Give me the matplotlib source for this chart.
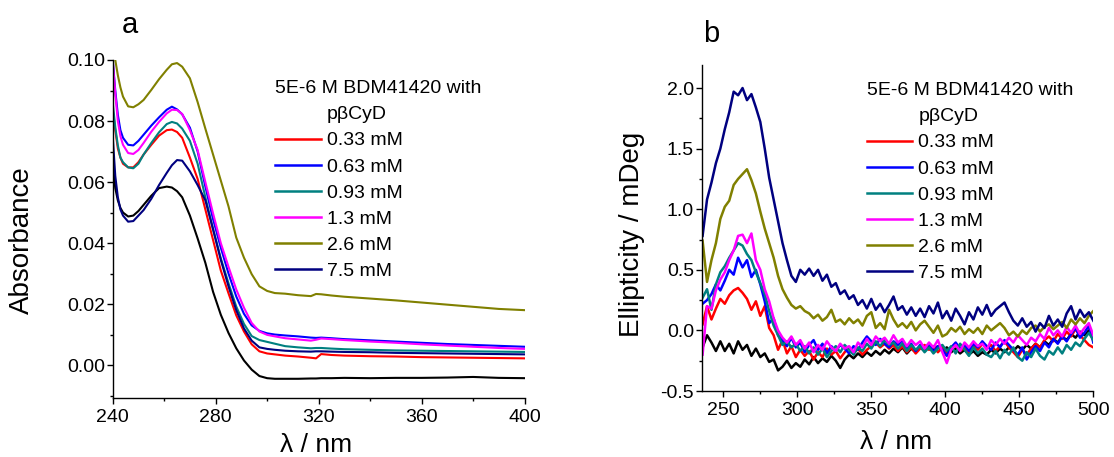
import matplotlib
matplotlib.use("Agg")
import matplotlib.pyplot as plt
from matplotlib.lines import Line2D
from matplotlib.ticker import MultipleLocator, FormatStrFormatter

plt.rcParams['font.family'] = ['Liberation Sans', 'DejaVu Sans']
plt.rcParams['axes.unicode_minus'] = False

# ---------------- data ----------------
labels = ['0.33 mM', '0.63 mM', '0.93 mM', '1.3 mM', '2.6 mM', '7.5 mM']
colors = ['#ff0000', '#0000ff', '#008080', '#ff00ff', '#808000', '#000080']
ref_color = '#000000'
title = '5E-6 M BDM41420 with'
sub_title = 'pβCyD'

# panel a : UV absorbance
wl_a = [240, 241, 242, 243, 244, 246, 248, 250, 252, 255, 258, 261, 263, 265, 267,
        270, 273, 276, 279, 282, 285, 288, 291, 294, 297, 300, 303, 307, 312, 317,
        319, 321, 325, 330, 340, 350, 360, 370, 380, 390, 400]
abs_ref = [0.066, 0.058, 0.054, 0.0515, 0.050, 0.0487, 0.0490, 0.0505, 0.0525, 0.0555,
           0.0580, 0.0585, 0.0582, 0.0570, 0.0550, 0.0490, 0.0415, 0.0335, 0.0240, 0.0165,
           0.0105, 0.0055, 0.0015, -0.0015, -0.0036, -0.0043, -0.0045, -0.0045, -0.0045,
           -0.0044, -0.0044, -0.0043, -0.0043, -0.0042, -0.0043, -0.0042, -0.0042, -0.0041,
           -0.0039, -0.0042, -0.0043]
abs_033 = [0.084, 0.077, 0.071, 0.068, 0.066, 0.0648, 0.0648, 0.0665, 0.0690, 0.0722,
           0.0752, 0.0770, 0.0772, 0.0764, 0.0745, 0.0680, 0.0610, 0.0510, 0.0410, 0.0310,
           0.0235, 0.0163, 0.0110, 0.0068, 0.0045, 0.0038, 0.0035, 0.0031, 0.0028, 0.0024,
           0.0022, 0.0036, 0.0033, 0.0031, 0.0029, 0.0028, 0.0026, 0.0025, 0.0024, 0.0023,
           0.0022]
abs_063 = [0.100, 0.090, 0.082, 0.077, 0.0745, 0.0722, 0.0720, 0.0735, 0.0755, 0.0785,
           0.0812, 0.0837, 0.0847, 0.0838, 0.0822, 0.0778, 0.0700, 0.0585, 0.0478, 0.0385,
           0.0300, 0.0225, 0.0168, 0.0130, 0.0112, 0.0104, 0.0100, 0.0097, 0.0094, 0.0090,
           0.0089, 0.0090, 0.0088, 0.0085, 0.0081, 0.0077, 0.0073, 0.0069, 0.0066, 0.0063,
           0.0060]
abs_093 = [0.086, 0.078, 0.072, 0.068, 0.0665, 0.0648, 0.0645, 0.0660, 0.0690, 0.0728,
           0.0763, 0.0790, 0.0797, 0.0792, 0.0775, 0.0735, 0.0660, 0.0550, 0.0445, 0.0350,
           0.0268, 0.0192, 0.0135, 0.0095, 0.0082, 0.0076, 0.0070, 0.0062, 0.0058, 0.0055,
           0.0056, 0.0056, 0.0054, 0.0052, 0.0050, 0.0048, 0.0047, 0.0046, 0.0045, 0.0044,
           0.0043]
abs_13 = [0.100, 0.089, 0.080, 0.075, 0.0722, 0.0695, 0.0692, 0.0705, 0.0728, 0.0765,
          0.0797, 0.0825, 0.0837, 0.0836, 0.0823, 0.0770, 0.0705, 0.0600, 0.0497, 0.0400,
          0.0322, 0.0248, 0.0188, 0.0138, 0.0110, 0.0099, 0.0094, 0.0088, 0.0084, 0.0080,
          0.0083, 0.0087, 0.0085, 0.0082, 0.0077, 0.0073, 0.0068, 0.0064, 0.0060, 0.0056,
          0.0053]
abs_26 = [0.112, 0.100, 0.095, 0.091, 0.088, 0.0848, 0.0845, 0.0855, 0.0869, 0.0902,
          0.0937, 0.0968, 0.0986, 0.0990, 0.0978, 0.0940, 0.0862, 0.0775, 0.0690, 0.0605,
          0.0520, 0.0418, 0.0352, 0.0298, 0.0258, 0.0243, 0.0236, 0.0234, 0.0229, 0.0226,
          0.0233, 0.0232, 0.0228, 0.0224, 0.0218, 0.0212, 0.0205, 0.0198, 0.0191, 0.0184,
          0.0180]
abs_75 = [0.075, 0.062, 0.055, 0.051, 0.049, 0.0470, 0.0472, 0.0490, 0.0508, 0.0545,
          0.0590, 0.0630, 0.0655, 0.0672, 0.0670, 0.0635, 0.0590, 0.0540, 0.0445, 0.0345,
          0.0258, 0.0180, 0.0120, 0.0080, 0.0058, 0.0053, 0.0050, 0.0047, 0.0045, 0.0044,
          0.0045, 0.0045, 0.0044, 0.0043, 0.0042, 0.0040, 0.0039, 0.0038, 0.0037, 0.0036,
          0.0035]

# panel b : circular dichroism, 3 nm steps 236..500
wl_b = [236, 239, 242, 245, 248, 251, 254, 257, 260, 263, 266, 269, 272, 275, 278,
        281, 284, 287, 290, 293, 296, 299, 302, 305, 308, 311, 314, 317, 320, 323,
        326, 329, 332, 335, 338, 341, 344, 347, 350, 353, 356, 359, 362, 365, 368,
        371, 374, 377, 380, 383, 386, 389, 392, 395, 398, 401, 404, 407, 410, 413,
        416, 419, 422, 425, 428, 431, 434, 437, 440, 443, 446, 449, 452, 455, 458,
        461, 464, 467, 470, 473, 476, 479, 482, 485, 488, 491, 494, 497, 500]
cd_ref = [-0.14, -0.04, -0.10, -0.17, -0.09, -0.17, -0.11, -0.19, -0.09, -0.16, -0.12, -0.21,
          -0.15, -0.22, -0.19, -0.26, -0.24, -0.33, -0.30, -0.25, -0.31, -0.27, -0.30, -0.24,
          -0.28, -0.22, -0.27, -0.23, -0.26, -0.21, -0.25, -0.31, -0.24, -0.20, -0.23, -0.19,
          -0.22, -0.18, -0.21, -0.17, -0.20, -0.16, -0.19, -0.15, -0.18, -0.14, -0.19, -0.15,
          -0.18, -0.14, -0.17, -0.12, -0.16, -0.13, -0.17, -0.14, -0.18, -0.15, -0.19, -0.16,
          -0.20, -0.17, -0.21, -0.18, -0.20, -0.16, -0.19, -0.15, -0.18, -0.14, -0.17, -0.13,
          -0.16, -0.12, -0.15, -0.11, -0.14, -0.09, -0.12, -0.07, -0.10, -0.05, -0.08, -0.03,
          -0.06, -0.01, -0.04, 0.00, -0.02]
cd_033 = [0.05, 0.20, 0.09, 0.18, 0.26, 0.22, 0.29, 0.33, 0.35, 0.31, 0.26, 0.17,
          0.24, 0.12, 0.20, 0.02, -0.04, -0.16, -0.08, -0.19, -0.13, -0.22, -0.16, -0.21,
          -0.17, -0.24, -0.18, -0.22, -0.15, -0.20, -0.17, -0.23, -0.18, -0.14, -0.19, -0.15,
          -0.20, -0.16, -0.13, -0.10, -0.14, -0.11, -0.15, -0.12, -0.17, -0.13, -0.18, -0.14,
          -0.19, -0.15, -0.12, -0.16, -0.13, -0.18, -0.14, -0.19, -0.15, -0.12, -0.17, -0.14,
          -0.18, -0.13, -0.16, -0.11, -0.15, -0.12, -0.17, -0.13, -0.09, -0.14, -0.18, -0.22,
          -0.16, -0.20, -0.15, -0.11, -0.14, -0.08, -0.05, -0.09, -0.03, -0.07, -0.01, -0.05,
          0.01, -0.04, -0.08, -0.12, -0.14]
cd_063 = [0.22, 0.25, 0.30, 0.38, 0.33, 0.41, 0.50, 0.46, 0.60, 0.52, 0.58, 0.44,
          0.50, 0.38, 0.24, 0.06, 0.10, -0.04, -0.08, -0.13, -0.06, -0.14, -0.10, -0.18,
          -0.12, -0.08, -0.16, -0.11, -0.19, -0.13, -0.17, -0.12, -0.15, -0.19, -0.13, -0.16,
          -0.10, -0.05, -0.09, -0.12, -0.07, -0.11, -0.14, -0.09, -0.12, -0.08, -0.15, -0.11,
          -0.17, -0.12, -0.15, -0.11, -0.18, -0.13, -0.16, -0.21, -0.14, -0.10, -0.15, -0.12,
          -0.17, -0.11, -0.14, -0.09, -0.13, -0.16, -0.10, -0.14, -0.08, -0.12, -0.16, -0.20,
          -0.14, -0.24, -0.18, -0.13, -0.17, -0.10, -0.14, -0.07, -0.11, -0.05, -0.09, -0.03,
          0.02, -0.06, -0.02, 0.04, -0.10]
cd_093 = [0.27, 0.34, 0.17, 0.38, 0.48, 0.53, 0.60, 0.66, 0.72, 0.70, 0.63, 0.58,
          0.48, 0.39, 0.30, 0.16, 0.04, -0.04, -0.12, -0.09, -0.14, -0.11, -0.17, -0.13,
          -0.19, -0.14, -0.20, -0.15, -0.22, -0.17, -0.13, -0.18, -0.12, -0.16, -0.20, -0.14,
          -0.17, -0.11, -0.15, -0.09, -0.13, -0.08, -0.12, -0.10, -0.15, -0.11, -0.17, -0.12,
          -0.16, -0.13, -0.18, -0.14, -0.19, -0.15, -0.12, -0.17, -0.13, -0.19, -0.11, -0.16,
          -0.21, -0.14, -0.19, -0.15, -0.20, -0.22, -0.17, -0.23, -0.16, -0.20, -0.14, -0.22,
          -0.25, -0.18, -0.22, -0.15, -0.21, -0.24, -0.17, -0.20, -0.14, -0.19, -0.12, -0.16,
          -0.10, -0.13, -0.07, -0.02, -0.08]
cd_13 = [-0.20, 0.20, 0.18, 0.33, 0.42, 0.48, 0.58, 0.66, 0.78, 0.79, 0.72, 0.80,
         0.58, 0.50, 0.34, 0.24, 0.10, 0.00, -0.06, -0.10, -0.05, -0.12, -0.08, -0.15,
         -0.10, -0.18, -0.12, -0.16, -0.09, -0.14, -0.17, -0.11, -0.15, -0.13, -0.18, -0.10,
         -0.14, -0.07, -0.12, -0.05, -0.09, -0.06, -0.11, -0.04, -0.10, -0.07, -0.13, -0.08,
         -0.12, -0.09, -0.15, -0.10, -0.14, -0.08, -0.18, -0.27, -0.16, -0.12, -0.17, -0.10,
         -0.14, -0.09, -0.13, -0.11, -0.16, -0.08, -0.12, -0.07, -0.11, -0.06, -0.10, -0.04,
         -0.08, -0.12, -0.06, -0.09, -0.03, -0.07, 0.02, -0.04, 0.00, -0.05, 0.03, -0.02,
         0.04, -0.03, 0.02, 0.06, -0.04]
cd_26 = [0.74, 0.40, 0.58, 0.72, 0.92, 1.02, 1.07, 1.20, 1.25, 1.29, 1.33, 1.24,
         1.13, 0.98, 0.84, 0.72, 0.60, 0.45, 0.34, 0.27, 0.21, 0.18, 0.20, 0.16,
         0.14, 0.10, 0.13, 0.08, 0.11, 0.17, 0.07, 0.09, 0.05, 0.10, 0.06, 0.09,
         0.04, 0.12, 0.15, 0.02, 0.06, 0.01, 0.17, 0.09, 0.03, 0.06, 0.02, 0.07,
         0.00, 0.05, 0.08, 0.03, -0.02, 0.04, -0.05, -0.03, 0.02, -0.01, 0.03, -0.03,
         0.01, -0.02, 0.02, -0.03, 0.04, 0.00, 0.03, 0.06, 0.02, -0.04, -0.01, -0.05,
         0.00, -0.03, 0.02, 0.04, -0.01, 0.03, 0.05, 0.01, 0.04, 0.07, 0.02, 0.09,
         0.05, 0.10, 0.06, 0.12, 0.16]
cd_75 = [0.78, 1.08, 1.22, 1.38, 1.50, 1.66, 1.80, 1.97, 1.94, 2.00, 1.90, 1.95,
         1.84, 1.72, 1.50, 1.26, 1.08, 0.90, 0.72, 0.58, 0.45, 0.40, 0.50, 0.46,
         0.51, 0.45, 0.50, 0.41, 0.46, 0.36, 0.39, 0.30, 0.33, 0.26, 0.29, 0.21,
         0.25, 0.18, 0.26, 0.17, 0.22, 0.15, 0.21, 0.28, 0.17, 0.20, 0.13, 0.19,
         0.12, 0.18, 0.11, 0.20, 0.14, 0.23, 0.10, 0.16, 0.08, 0.18, 0.12, 0.05,
         0.15, 0.09, 0.19, 0.13, 0.21, 0.12, 0.17, 0.20, 0.23, 0.15, 0.08, 0.04,
         0.10, 0.03, 0.07, -0.01, 0.06, 0.02, 0.12, 0.04, 0.09, 0.03, 0.14, 0.20,
         0.09, 0.17, 0.11, 0.15, 0.08]

abs_series = [abs_033, abs_063, abs_093, abs_13, abs_26, abs_75]
cd_series = [cd_033, cd_063, cd_093, cd_13, cd_26, cd_75]

# ---------------- figure ----------------
W, H = 1114, 457
fig = plt.figure(figsize=(W / 100, H / 100), dpi=100)


def px_axes(left, top, right, bottom):
    return fig.add_axes([left / W, 1 - bottom / H, (right - left) / W, (bottom - top) / H])


def style_axes(ax):
    for s in ['top', 'right']:
        ax.spines[s].set_visible(False)
    for s in ['left', 'bottom']:
        ax.spines[s].set_linewidth(1.0)
    ax.tick_params(which='major', direction='out', length=4, width=1.0, labelsize=14)
    ax.tick_params(which='minor', direction='out', length=2.2, width=1.0)
    ax.tick_params(axis='x', pad=4)
    ax.tick_params(axis='y', pad=1.5)


def add_legend(ax, x, y, lw):
    handles = [Line2D([], [], color='none', lw=0)]
    handles += [Line2D([], [], color=c, lw=lw) for c in colors]
    ax.legend(handles, [sub_title] + labels, title=title, alignment='left',
              loc='upper left', bbox_to_anchor=(x / W, 1 - y / H),
              bbox_transform=fig.transFigure, frameon=False, fontsize=14,
              title_fontsize=14, handlelength=2.35, handletextpad=0.3,
              labelspacing=0.44, borderpad=0, borderaxespad=0)


# ---- panel a ----
ax1 = px_axes(112.7, 60, 524.5, 397.7)
ax1.plot(wl_a, abs_ref, color=ref_color, lw=1.5)
for vals, c in zip(abs_series, colors):
    ax1.plot(wl_a, vals, color=c, lw=1.5)
ax1.set_xlim(240, 400)
ax1.set_ylim(-0.0107, 0.100)
ax1.xaxis.set_major_locator(MultipleLocator(40))
ax1.xaxis.set_minor_locator(MultipleLocator(20))
ax1.yaxis.set_major_locator(MultipleLocator(0.02))
ax1.yaxis.set_minor_locator(MultipleLocator(0.01))
ax1.yaxis.set_major_formatter(FormatStrFormatter('%.2f'))
style_axes(ax1)
ax1.set_ylabel('Absorbance', fontsize=20)
ax1.yaxis.set_label_coords(-0.19, 0.467)
ax1.set_xlabel('λ / nm', fontsize=19)
ax1.xaxis.set_label_coords(0.495, -0.105)
ax1.xaxis.label.set_va('top')
add_legend(ax1, 275, 80, 1.8)
fig.text(130 / W, 1 - 33.3 / H, 'a', fontsize=21, ha='center', va='baseline')

# ---- panel b ----
ax2 = px_axes(701.7, 65, 1093.3, 391)
ax2.plot(wl_b, cd_ref, color=ref_color, lw=1.8)
for vals, c in zip(cd_series, colors):
    ax2.plot(wl_b, vals, color=c, lw=1.8)
ax2.set_xlim(235.4, 500)
ax2.set_ylim(-0.5, 2.19)
ax2.xaxis.set_major_locator(MultipleLocator(50))
ax2.xaxis.set_minor_locator(MultipleLocator(25))
ax2.yaxis.set_major_locator(MultipleLocator(0.5))
ax2.yaxis.set_minor_locator(MultipleLocator(0.25))
ax2.yaxis.set_major_formatter(FormatStrFormatter('%.1f'))
style_axes(ax2)
ax2.set_ylabel('Ellipticity / mDeg', fontsize=20)
ax2.yaxis.set_label_coords(-0.145, 0.479)
ax2.set_xlabel('λ / nm', fontsize=19)
ax2.xaxis.set_label_coords(0.496, -0.12)
ax2.xaxis.label.set_va('top')
add_legend(ax2, 866.7, 82, 1.8)
fig.text(711.6 / W, 1 - 41.7 / H, 'b', fontsize=21, ha='center', va='baseline')

fig.savefig('out.png', dpi=100)
